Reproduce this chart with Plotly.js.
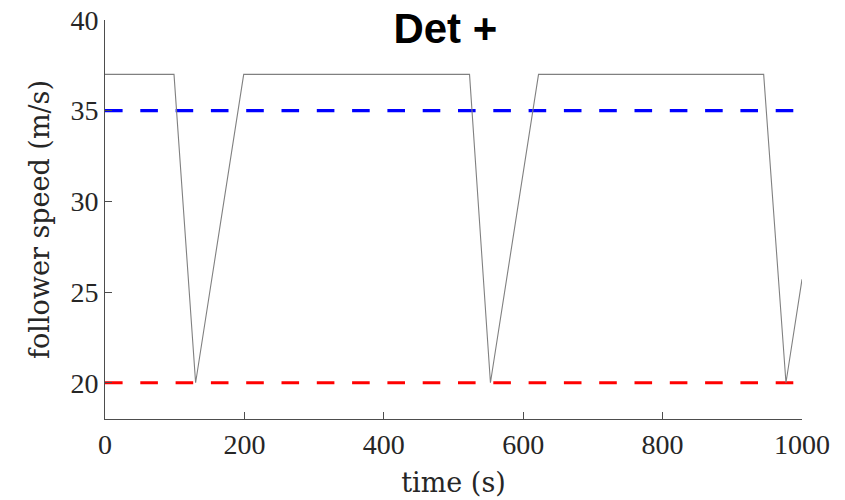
<!DOCTYPE html>
<html>
<head>
<meta charset="utf-8">
<script src="https://cdn.plot.ly/plotly-3.0.1.min.js"></script>
<style>html,body{margin:0;padding:0;background:#fff;}#chart{width:845px;height:500px;}</style>
</head>
<body>
<div id="chart"></div>
<script>
// follower speed trace
var time = [0, 99, 130, 199, 523, 553, 622, 945, 977, 1000];
var speed = [37, 37, 20, 37, 37, 20, 37, 37, 20, 25.7];
// reference levels
var refTime = [0, 1000];
var upperLevel = [35, 35];
var lowerLevel = [20, 20];
var xTicks = [0, 200, 400, 600, 800, 1000];
var yTicks = [20, 25, 30, 35, 40];

var serif = 'Liberation Serif, Times New Roman, serif';
var serifWide = 'DejaVu Serif, serif';

var traces = [
  {x: refTime, y: upperLevel, mode: 'lines', line: {color: '#0000ff', width: 3.2, dash: '17.6px,17.7px'}, hoverinfo: 'skip'},
  {x: refTime, y: lowerLevel, mode: 'lines', line: {color: '#ff0000', width: 3.2, dash: '17.6px,17.7px'}, hoverinfo: 'skip'},
  {x: time, y: speed, mode: 'lines', line: {color: '#808080', width: 1.1}}
];

var layout = {
  width: 845, height: 500,
  paper_bgcolor: '#ffffff', plot_bgcolor: '#ffffff',
  showlegend: false,
  margin: {l: 105, r: 43, t: 20, b: 81, pad: 0},
  title: {text: '<b>Det +</b>', font: {family: 'Liberation Sans, Arial, sans-serif', size: 42, color: '#000'},
          x: 0.527, xref: 'container', xanchor: 'center', y: 0.915, yref: 'container', yanchor: 'bottom'},
  xaxis: {
    range: [0, 1000], tickvals: xTicks, ticktext: xTicks.map(String),
    ticks: 'inside', ticklen: 7, tickcolor: '#4d4d4d', tickwidth: 1,
    showline: true, linecolor: '#4d4d4d', linewidth: 1, showgrid: false, zeroline: false,
    tickfont: {family: serif, size: 28, color: '#262626'},
    title: {text: 'time (s)', font: {family: serifWide, size: 27, color: '#262626'}, standoff: 14}
  },
  yaxis: {
    range: [18, 40], tickvals: yTicks, ticktext: yTicks.map(String),
    ticks: 'inside', ticklen: 7, tickcolor: '#4d4d4d', tickwidth: 1,
    showline: true, linecolor: '#4d4d4d', linewidth: 1, showgrid: false, zeroline: false,
    tickfont: {family: serif, size: 28, color: '#262626'},
    title: {text: 'follower speed (m/s)', font: {family: serifWide, size: 27, color: '#262626'}, standoff: 12}
  }
};

Plotly.newPlot('chart', traces, layout, {staticPlot: true, displayModeBar: false});
</script>
</body>
</html>
